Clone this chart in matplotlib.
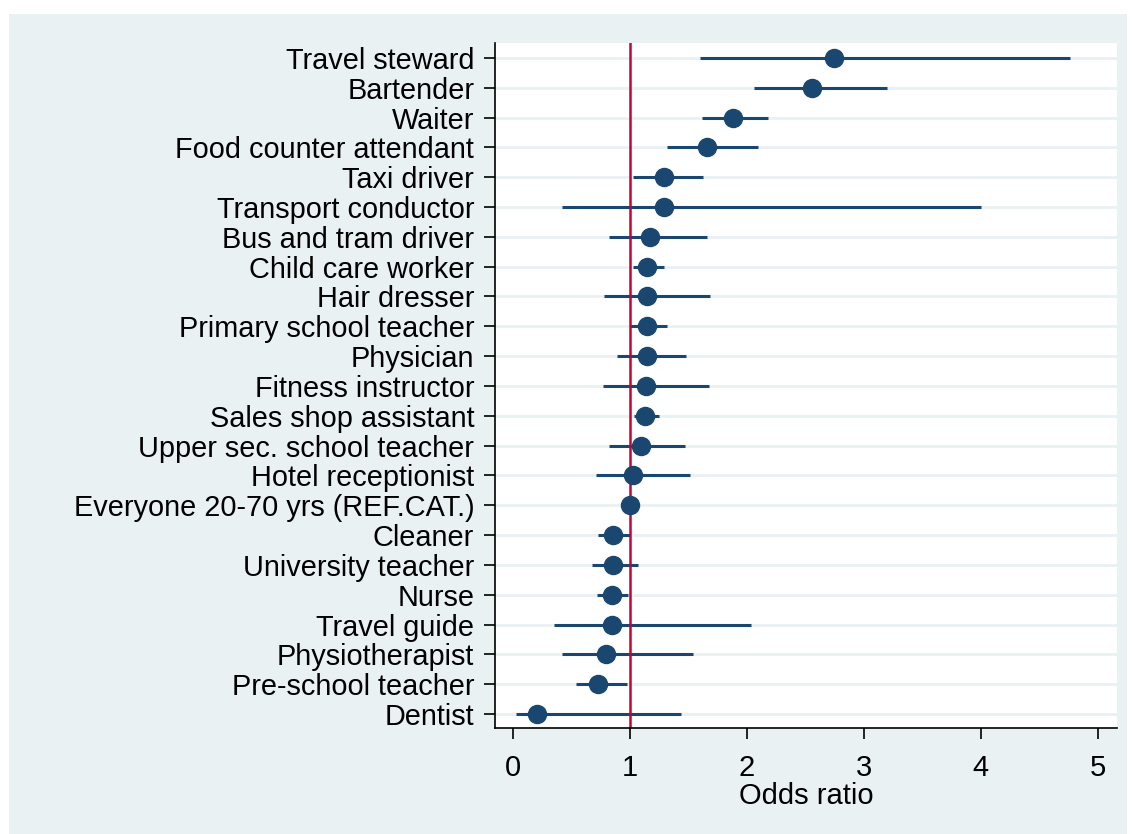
import numpy as np
import matplotlib.pyplot as plt
from matplotlib.patches import Rectangle

plt.rcParams['font.family'] = ['Liberation Sans', 'DejaVu Sans']

# occupations, top to bottom
occupations = ['Travel steward', 'Bartender', 'Waiter', 'Food counter attendant',
               'Taxi driver', 'Transport conductor', 'Bus and tram driver',
               'Child care worker', 'Hair dresser', 'Primary school teacher',
               'Physician', 'Fitness instructor', 'Sales shop assistant',
               'Upper sec. school teacher', 'Hotel receptionist',
               'Everyone 20-70 yrs (REF.CAT.)', 'Cleaner', 'University teacher',
               'Nurse', 'Travel guide', 'Physiotherapist', 'Pre-school teacher',
               'Dentist']
odds = [2.75, 2.56, 1.88, 1.66, 1.29, 1.29, 1.17, 1.15, 1.15, 1.15, 1.15, 1.14,
        1.13, 1.10, 1.03, 1.00, 0.86, 0.86, 0.85, 0.85, 0.80, 0.73, 0.21]
ci_low = [1.60, 2.06, 1.62, 1.32, 1.03, 0.42, 0.82, 1.03, 0.78, 1.00, 0.89, 0.77,
          1.04, 0.82, 0.71, 1.00, 0.73, 0.68, 0.72, 0.35, 0.42, 0.54, 0.03]
ci_high = [4.76, 3.20, 2.18, 2.10, 1.63, 4.00, 1.66, 1.29, 1.69, 1.32, 1.48, 1.68,
           1.25, 1.47, 1.52, 1.00, 1.00, 1.07, 0.99, 2.04, 1.54, 0.98, 1.44]
xticks = [0, 1, 2, 3, 4, 5]

navy = '#1a476f'
bg = '#eaf1f3'

fig = plt.figure(figsize=(11.32, 8.34), dpi=100)
fig.patches.append(Rectangle((9/1132, 0), 1118/1132, 820/834, transform=fig.transFigure,
                             facecolor=bg, edgecolor='none', zorder=-10))

ax = fig.add_axes([495/1132, 106/834, 622/1132, 685/834])
ax.set_facecolor('white')

y = np.arange(len(occupations))[::-1]
for yy in y:
    ax.axhline(yy, color=bg, lw=2, zorder=0)
ax.hlines(y, ci_low, ci_high, color=navy, lw=2.2, zorder=2)
ax.plot(odds, y, 'o', color=navy, ms=13, zorder=3)
ax.axvline(1, color='#c10534', lw=1.8, zorder=2.5)

ax.set_xlim(-0.151, 5.166)
ax.set_ylim(-0.47, len(occupations) - 0.5)
ax.set_yticks(y)
ax.set_yticklabels(occupations, fontsize=20.8)
ax.set_xticks(xticks)
ax.set_xticklabels([str(t) for t in xticks], fontsize=21)
ax.tick_params(axis='both', direction='out', length=8, width=1.2, color='black')
ax.tick_params(axis='y', pad=7)
ax.tick_params(axis='x', pad=11)
ax.set_xlabel('Odds ratio', fontsize=21, labelpad=0)

for s in ['top', 'right']:
    ax.spines[s].set_visible(False)
for s in ['left', 'bottom']:
    ax.spines[s].set_linewidth(1.2)

fig.savefig('out.png', dpi=100, facecolor='white')
